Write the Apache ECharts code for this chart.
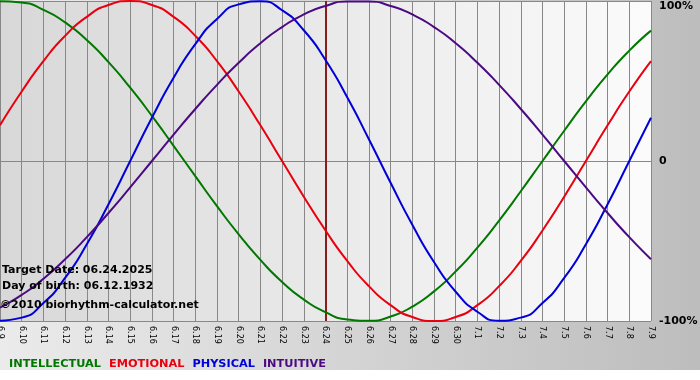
<!DOCTYPE html>
<html>
<head>
<meta charset="utf-8">
<script src="https://cdn.jsdelivr.net/npm/echarts@6/dist/echarts.min.js"></script>
<style>
html,body{margin:0;padding:0;background:#fff;}
#c{width:700px;height:380px;}
</style>
</head>
<body>
<div id="c"></div>
<script>
// Data (percent values)
var days = ['6.9','6.10','6.11','6.12','6.13','6.14','6.15','6.16','6.17','6.18','6.19','6.20','6.21','6.22','6.23','6.24','6.25','6.26','6.27','6.28','6.29','6.30','7.1','7.2','7.3','7.4','7.5','7.6','7.7','7.8','7.9'];
var intellectual = [99.9,99.0,94.5,86.6,75.6,61.8,45.8,28.2,9.5,-9.5,-28.2,-45.8,-61.8,-75.6,-86.6,-94.5,-99.0,-99.9,-97.2,-91.0,-81.5,-69.0,-54.1,-37.2,-18.9,0,18.9,37.2,54.1,69.0,81.5];
var emotional = [22.3,43.4,62.4,78.2,90.1,97.5,100,97.5,90.1,78.2,62.4,43.4,22.3,0,-22.3,-43.4,-62.4,-78.2,-90.1,-97.5,-100,-97.5,-90.1,-78.2,-62.4,-43.4,-22.3,0,22.3,43.4,62.4];
var physical = [-99.8,-97.9,-88.8,-73.1,-52.0,-27.0,0,27.0,52.0,73.1,88.8,97.9,99.8,94.2,81.7,63.1,39.8,13.6,-13.6,-39.8,-63.1,-81.7,-94.2,-99.8,-97.9,-88.8,-73.1,-52.0,-27.0,0,27.0];
var intuitive = [-91.6,-83.7,-73.6,-61.4,-47.6,-32.5,-16.5,0,16.5,32.5,47.6,61.4,73.6,83.7,91.6,96.9,99.7,99.7,96.9,91.6,83.7,73.6,61.4,47.6,32.5,16.5,0,-16.5,-32.5,-47.6,-61.4];
var seriesNames = ['INTELLECTUAL','EMOTIONAL','PHYSICAL','INTUITIVE'];
var targetDay = '6.24';
var infoLines = ['Target Date: 06.24.2025','Day of birth: 06.12.1932','\u00a92010 biorhythm-calculator.net'];

var colors = ['#007800','#e8000e','#0000d8','#4b0a82'];
var chart = echarts.init(document.getElementById('c'));
var valuesList = [intellectual, emotional, physical, intuitive];
var series = seriesNames.map(function(n,i){
  var s = {
    name:n, type:'line', data:valuesList[i], smooth:0.6, showSymbol:false, symbol:'none',
    lineStyle:{color:colors[i], width:2}, itemStyle:{color:colors[i]}, z:3, animation:false
  };
  if(i===0){
    s.markLine = {symbol:['none','none'], silent:true, label:{show:false},
      lineStyle:{color:'#8a1c1c', width:2, type:'solid'},
      data:[{xAxis:targetDay}], animation:false, z:2};
  }
  return s;
});

chart.setOption({
  animation:false,
  backgroundColor:'#ffffff',
  graphic:[
    {type:'rect', z:-10, silent:true, shape:{x:0,y:0,width:700,height:370},
     style:{fill:{type:'linear',x:0,y:0,x2:1,y2:0,colorStops:[{offset:0,color:'#ebebeb'},{offset:1,color:'#bdbdbd'}]}}},
    {type:'text', left:2, top:265, z:100, style:{text:infoLines[0], font:'bold 11px "DejaVu Sans"', fill:'#000'}},
    {type:'text', left:2, top:281, z:100, style:{text:infoLines[1], font:'bold 11px "DejaVu Sans"', fill:'#000'}},
    {type:'text', left:0, top:300, z:100, style:{text:infoLines[2], font:'bold 11px "DejaVu Sans"', fill:'#000'}}
  ],
  legend:{
    left:-1, top:354, itemWidth:0, itemHeight:0, itemGap:3, icon:'rect',
    selectedMode:false,
    textStyle:{fontFamily:'DejaVu Sans', fontWeight:'bold', fontSize:11.3},
    data:seriesNames.map(function(n,i){return {name:n, textStyle:{color:colors[i]}};})
  },
  grid:{left:0, right:49, top:1, bottom:59, containLabel:false, outerBoundsMode:'none', show:true, borderWidth:0,
    backgroundColor:{type:'linear',x:0,y:0,x2:1,y2:0,colorStops:[{offset:0,color:'#d8d8d8'},{offset:1,color:'#fbfbfb'}]}},
  xAxis:{
    type:'category', data:days, boundaryGap:false,
    axisLine:{show:true, lineStyle:{color:'#888888', width:1}},
    axisTick:{show:true, length:4, interval:0, lineStyle:{color:'#888888'}},
    splitLine:{show:true, interval:0, lineStyle:{color:'#888888', width:1}},
    axisLabel:{interval:0, rotate:-90, fontSize:8, fontFamily:'DejaVu Sans', color:'#000', margin:5}
  },
  yAxis:{
    type:'value', position:'right', min:-100, max:100, interval:100,
    axisLine:{show:false}, axisTick:{show:false},
    splitLine:{show:true, lineStyle:{color:'#888888', width:1}},
    axisLabel:{margin:8, fontSize:11, fontWeight:'bold', fontFamily:'DejaVu Sans', color:'#000',
      verticalAlignMaxLabel:'top',
      formatter:function(v){return v===0?'0':(v+'%');}}
  },
  series:series
});
</script>
</body>
</html>
